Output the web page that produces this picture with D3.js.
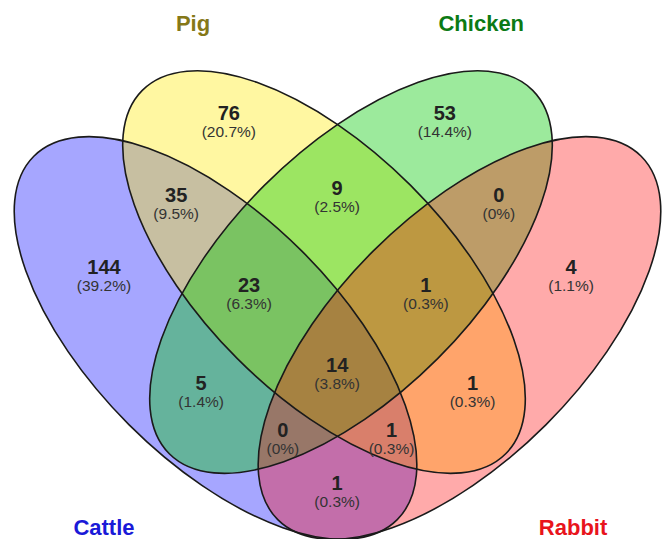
<!DOCTYPE html>
<html>
<head>
<meta charset="utf-8">
<script src="https://cdn.jsdelivr.net/npm/d3@7"></script>
<style>
  html, body { margin: 0; padding: 0; background: #fff; }
  svg { display: block; font-family: "Liberation Sans", Arial, sans-serif; }
</style>
</head>
<body>
<svg id="chart" width="665" height="539"></svg>
<script>
// ---------------- data ----------------
const setNames  = ["Cattle", "Pig", "Chicken", "Rabbit"];
// region membership keys (C=Cattle, P=Pig, K=Chicken, R=Rabbit)
const regionKeys   = ["C", "P", "K", "R", "CP", "PK", "KR", "CPK", "PKR", "CK", "CPKR", "PR", "CKR", "CPR", "CR"];
const regionCounts = [144, 76, 53, 4, 35, 9, 0, 23, 1, 5, 14, 1, 0, 1, 1];

// ---------------- styles / layout ----------------
const setFill    = ["rgb(0,0,255)", "rgb(255,232,0)", "rgb(0,200,0)", "rgb(255,0,0)"];
const setOpacity = [0.35, 0.37, 0.39, 0.335];
const labelColor = ["#1a1ad8", "#857818", "#0b7a14", "#e8141c"];

// ellipse geometry in normalised units (1 unit = scale range)
const ellCx  = [0.3193, 0.4800, 0.5200, 0.6807];
const ellCy  = [0.5007, 0.4030, 0.4030, 0.5007];
const ellA   = 0.3807, ellB = 0.1815;
const ellRot = [45, 45, -45, -45];

// label anchor positions (normalised)
const setLabelPos = [[0.154, 0.793], [0.286, 0.046], [0.713, 0.046], [0.849, 0.793]];
const regionPos = {
  C: [0.154, 0.396], P: [0.339, 0.167], K: [0.659, 0.167], R: [0.846, 0.396],
  CP: [0.261, 0.289], PK: [0.4995, 0.279], KR: [0.739, 0.289],
  CPK: [0.369, 0.422], PKR: [0.631, 0.422],
  CK: [0.298, 0.567], CPKR: [0.4995, 0.541], PR: [0.700, 0.567],
  CKR: [0.419, 0.637], CPR: [0.580, 0.637], CR: [0.4995, 0.716]
};

const W = 665, H = 539, U = 675;
const x = d3.scaleLinear().domain([0, 1]).range([0, U]);
const y = d3.scaleLinear().domain([0, 1]).range([0, U]);
const len = d3.scaleLinear().domain([0, 1]).range([0, U]);

const svg = d3.select("#chart");
const total = d3.sum(regionCounts);
const pct = v => v === 0 ? "(0%)" : "(" + d3.format(".1f")(100 * v / total) + "%)";

const sets = setNames.map((n, i) => ({ name: n, i }));

// fills
svg.append("g").selectAll("ellipse").data(sets).join("ellipse")
  .attr("transform", d => `translate(${x(ellCx[d.i])},${y(ellCy[d.i])}) rotate(${ellRot[d.i]})`)
  .attr("rx", len(ellA)).attr("ry", len(ellB))
  .attr("fill", d => setFill[d.i]).attr("fill-opacity", d => setOpacity[d.i])
  .attr("stroke", "none");

// outlines
svg.append("g").selectAll("ellipse").data(sets).join("ellipse")
  .attr("transform", d => `translate(${x(ellCx[d.i])},${y(ellCy[d.i])}) rotate(${ellRot[d.i]})`)
  .attr("rx", len(ellA)).attr("ry", len(ellB))
  .attr("fill", "none").attr("stroke", "#1a1a1a").attr("stroke-width", 1.6);

// region labels
const regions = regionKeys.map((k, i) => ({ key: k, count: regionCounts[i] }));
const rg = svg.append("g").selectAll("g").data(regions).join("g")
  .attr("transform", d => `translate(${x(regionPos[d.key][0])},${y(regionPos[d.key][1])})`);
rg.append("text").attr("text-anchor", "middle").attr("y", 7)
  .attr("font-size", 20).attr("font-weight", "bold").attr("fill", "#222")
  .text(d => d.count);
rg.append("text").attr("text-anchor", "middle").attr("y", 24)
  .attr("font-size", 15.5).attr("fill", "#333")
  .text(d => pct(d.count));

// set labels
svg.append("g").selectAll("text").data(sets).join("text")
  .attr("x", d => x(setLabelPos[d.i][0]))
  .attr("y", d => y(setLabelPos[d.i][1]))
  .attr("text-anchor", "middle").attr("font-size", 22).attr("font-weight", "bold")
  .attr("fill", d => labelColor[d.i])
  .text(d => d.name);
</script>
</body>
</html>
